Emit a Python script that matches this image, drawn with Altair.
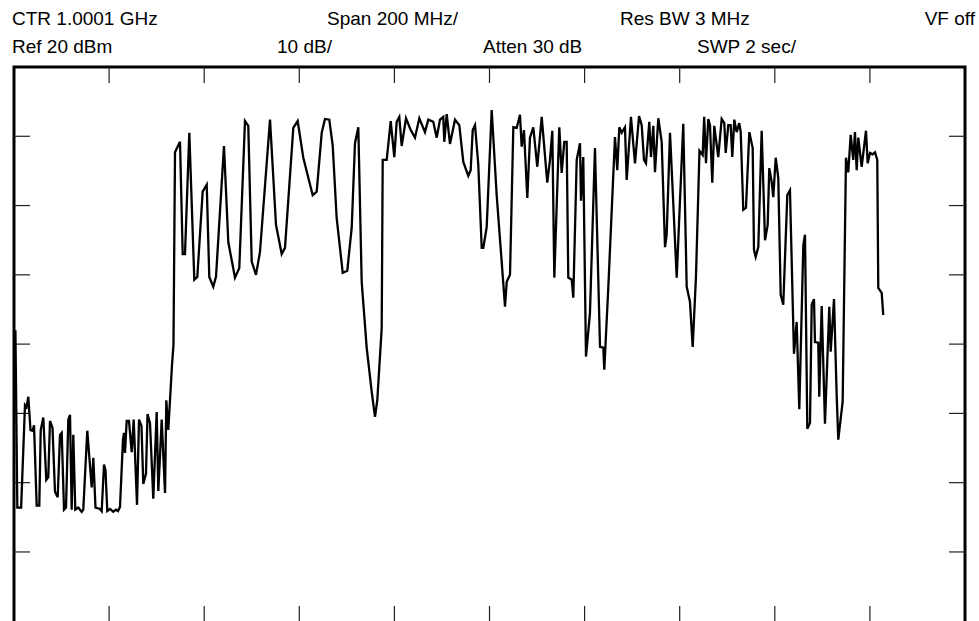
import altair as alt
import pandas as pd

# Trace: frequency offset from sweep start (MHz) and level (dBm)
freq_mhz = [3, 7, 15, 23.1, 26.3, 30.1, 34.7, 39.3, 42.1, 47.7, 53.2, 56.2, 61.6, 67.9, 72.1, 75.7, 81.0, 86.2, 91.9, 96.7,
            100.3, 105.2, 109.4, 114.2, 117.8, 121.3, 124.7, 128.9, 135.2, 142.4, 145.7, 154.1, 163.4, 166.8, 171.4, 180.9, 184.4, 189.3, 192.4, 196.2,
            202.0, 208.8, 214.5, 218.7, 222.9, 229.2, 231.3, 233.4, 237.0, 241.8, 247.5, 251.7, 258.7, 262.9, 268.1, 271.9, 277.6, 280.8, 286.0, 292.9,
            300.1, 303.5, 310.6, 317.6, 320.3, 324.5, 332.3, 335.4, 338.6, 349.1, 354.8, 359.6, 368.7, 379.2, 385.5, 396.8, 405.3, 410.7, 419.1, 424.8,
            441.6, 450.7, 464.8, 473.8, 485.8, 492.7, 499.9, 508.9, 517.3, 538.4, 551.0, 563.0, 569.9, 587.4, 596.6, 608.4, 628.2, 636.6, 647.1, 654.0,
            663.1, 670.2, 678.6, 691.3, 700.9, 710.2, 717.1, 724.1, 731.2, 741.7, 752.3, 759.2, 764.0, 773.3, 775.4, 783.8, 792.2, 799.8, 804.8, 810.3,
            815.3, 824.4, 834.3, 843.3, 852.4, 864.3, 871.3, 881.8, 889.0, 895.9, 902.8, 904.9, 910.0, 916.9, 927.4, 936.5, 944.9, 955.4, 960.4, 964.7,
            969.5, 976.4, 983.6, 987.0, 994.1, 1004.6, 1015.1, 1025.6, 1032.6, 1036.2, 1043.1, 1050.1, 1057.2, 1064.1, 1067.7, 1072.5, 1079.5, 1085.1, 1092.1, 1100.5,
            1109.8, 1121.5, 1127.2, 1132.1, 1136.3, 1146.8, 1151.8, 1157.3, 1162.3, 1165.7, 1172.9, 1176.2, 1183.4, 1190.3, 1192.4, 1197.2, 1202.9, 1211.3, 1221.8, 1232.4,
            1239.3, 1241.4, 1249.8, 1263.9, 1268.7, 1273.0, 1278.0, 1284.9, 1288.5, 1297.5, 1306.0, 1314.5, 1320.1, 1324.9, 1329.1, 1336.1, 1339.6, 1344.5, 1348.0, 1355.0,
            1362.1, 1369.1, 1372.6, 1379.6, 1393.7, 1407.5, 1414.7, 1421.6, 1427.3, 1434.2, 1441.6, 1448.3, 1451.5, 1455.3, 1460.1, 1463.7, 1468.5, 1472.7, 1481.1, 1488.3,
            1493.8, 1496.7, 1502.2, 1507.2, 1510.6, 1514.8, 1519.8, 1525.3, 1528.3, 1533.7, 1539.4, 1546.4, 1553.5, 1556.2, 1559.8, 1565.3, 1572.4, 1579.4, 1585.0, 1588.4,
            1593.4, 1596.8, 1601.9, 1607.3, 1612.4, 1617.8, 1626.3, 1631.9, 1640.3, 1646.0, 1651.5, 1660.0, 1663.5, 1668.4, 1674.0, 1677.6, 1682.4, 1684.5, 1691.4, 1693.5,
            1698.6, 1705.5, 1714.6, 1717.5, 1724.5, 1730.1, 1733.5, 1742.7, 1749.7, 1754.5, 1759.6, 1765.0, 1768.6, 1772.2, 1775.6, 1782.7, 1791.8, 1795.3, 1800.2, 1805.8,
            1810.7, 1815.5, 1817.6, 1824.8, 1828.1]

level_dbm = [-18.0, -43.6, -43.6, -28.8, -29.1, -27.6, -32.4, -32.5, -31.7, -43.3, -43.3, -32.4, -30.6, -39.6, -39.2, -31.1, -32.1, -41.3, -42.1, -33.1,
             -32.8, -43.9, -43.6, -30.9, -30.2, -43.9, -33.1, -43.9, -43.6, -44.2, -43.9, -32.5, -40.7, -36.4, -43.6, -43.8, -44.1, -37.4, -38.2, -44.1,
             -43.8, -44.2, -43.9, -44.1, -43.5, -33.8, -32.8, -35.7, -31.1, -31.1, -35.6, -30.9, -43.2, -30.9, -31.8, -40.2, -38.7, -30.1, -31.4, -42.3,
             -29.8, -41.2, -30.9, -41.5, -28.1, -32.4, -23.0, -20.1, 7.7, 9.2, -7.0, -7.0, 10.5, -10.7, -10.3, 2.0, 3.0, -10.3, -11.7, -10.3,
             8.6, -5.3, -10.4, -9.0, 12.2, 11.5, -8.1, -10.0, -6.7, 12.4, -2.8, -7.0, -6.1, 11.2, 12.2, 6.9, 1.5, 2.0, 10.5, 12.5,
             12.4, 8.7, -1.8, -9.7, -9.4, -3.2, 9.0, 11.3, -11.0, -20.5, -26.9, -30.5, -28.1, -17.7, 6.6, 6.6, 12.2, 7.0, 12.1, 12.8,
             8.6, 12.6, 10.9, 9.8, 12.6, 10.6, 12.4, 12.1, 9.8, 12.4, 12.8, 9.2, 13.2, 8.9, 12.4, 11.6, 6.3, 4.3, 5.1, 10.9,
             11.6, 5.9, -6.1, -6.1, -3.1, 13.8, 1.5, -8.1, -14.6, -11.0, -10.0, 11.3, 11.2, 13.1, 8.5, 10.9, 1.1, 9.8, 11.3, 5.6,
             12.8, 3.3, 6.6, 10.8, -10.4, 11.3, 4.7, 9.2, 9.2, -10.4, -10.7, -13.3, 6.6, 9.0, 0.7, 7.0, -21.8, -15.5, 8.3, -20.4,
             -20.5, -23.7, -11.9, 9.9, 5.1, 11.3, 10.5, 11.3, 3.7, 12.8, 6.1, 12.9, 11.6, 6.6, 6.1, 12.1, 7.0, 11.5, 4.8, 12.6,
             9.2, -6.0, -4.2, 10.5, -10.4, 11.8, -11.7, -13.9, -20.4, -10.3, 7.9, 7.3, 12.8, 6.1, 12.5, 11.6, 3.3, 11.5, 7.0, 12.5,
             11.9, 7.6, 11.6, 11.6, 7.0, 12.4, 10.6, 11.9, 10.6, -0.6, -0.3, 10.6, 8.3, -6.4, -7.4, -6.0, 10.8, -5.0, -2.8, 5.4,
             3.4, 1.2, 6.9, 4.0, -12.9, -14.3, 1.5, 2.2, -21.4, -16.8, -29.4, -5.7, -4.2, -32.2, -31.4, -14.3, -13.5, -19.7, -19.8, -27.6,
             -14.5, -31.5, -14.6, -21.1, -13.5, -27.3, -33.8, -28.3, 6.9, 4.8, 10.2, 6.6, 10.6, 5.1, 9.8, 5.6, 10.8, 6.1, 7.6, 7.4,
             7.7, 6.6, -11.9, -12.6, -15.8]

# Graticule divisions
x_divisions = [200, 400, 600, 800, 1000, 1200, 1400, 1600, 1800]
y_divisions = [10, 0, -10, -20, -30, -40, -50]

# Header annotations
row1_labels = ["CTR 1.0001 GHz", "Span 200 MHz/", "Res BW 3 MHz", "VF off"]
row2_labels = ["Ref 20 dBm", "10 dB/", "Atten 30 dB", "SWP 2 sec/"]

W, H = 951, 557
FONT = "Liberation Sans"

trace_df = pd.DataFrame({"i": list(range(len(freq_mhz))), "f": freq_mhz, "v": level_dbm})
xs = alt.Scale(domain=[0, 2000], nice=False, zero=False)
ys = alt.Scale(domain=[-60.4, 20], nice=False, zero=False)

trace = alt.Chart(trace_df).mark_line(color="black", strokeWidth=2.3).encode(
    x=alt.X("f:Q", scale=xs, axis=None),
    y=alt.Y("v:Q", scale=ys, axis=None),
    order="i:Q",
)

xt = pd.DataFrame({"f": x_divisions})
yt = pd.DataFrame({"v": y_divisions})

top_ticks = alt.Chart(xt).mark_rule(color="#222", strokeWidth=1.2).encode(
    x=alt.X("f:Q", scale=xs, axis=None), y=alt.value(0), y2=alt.value(16))
bot_ticks = alt.Chart(xt).mark_rule(color="#222", strokeWidth=1.2).encode(
    x=alt.X("f:Q", scale=xs, axis=None), y=alt.value(539), y2=alt.value(H))
left_ticks = alt.Chart(yt).mark_rule(color="#222", strokeWidth=1.2).encode(
    y=alt.Y("v:Q", scale=ys, axis=None), x=alt.value(0), x2=alt.value(16))
right_ticks = alt.Chart(yt).mark_rule(color="#222", strokeWidth=1.2).encode(
    y=alt.Y("v:Q", scale=ys, axis=None), x=alt.value(W - 16), x2=alt.value(W))


def label(text, x, y, align="left"):
    return alt.Chart(pd.DataFrame({"t": [text]})).mark_text(
        font=FONT, fontSize=19, color="black", align=align, baseline="alphabetic"
    ).encode(text="t:N", x=alt.value(x), y=alt.value(y))


row1_x = [-2, 313, 606, 961]
row2_x = [-2, 263, 469, 683]
labels = []
for t, x in zip(row1_labels, row1_x):
    labels.append(label(t, x, -42, "right" if t == "VF off" else "left"))
for t, x in zip(row2_labels, row2_x):
    labels.append(label(t, x, -14))

chart = alt.layer(
    top_ticks, bot_ticks, left_ticks, right_ticks, trace, *labels
).properties(
    width=W, height=H,
    autosize=alt.AutoSizeParams(type="none"),
    padding={"left": 14, "top": 67, "right": 14, "bottom": 0},
    background="white",
).configure_view(stroke="black", strokeWidth=3)

chart.save("out.html", embed_options={"renderer": "svg", "actions": False})
